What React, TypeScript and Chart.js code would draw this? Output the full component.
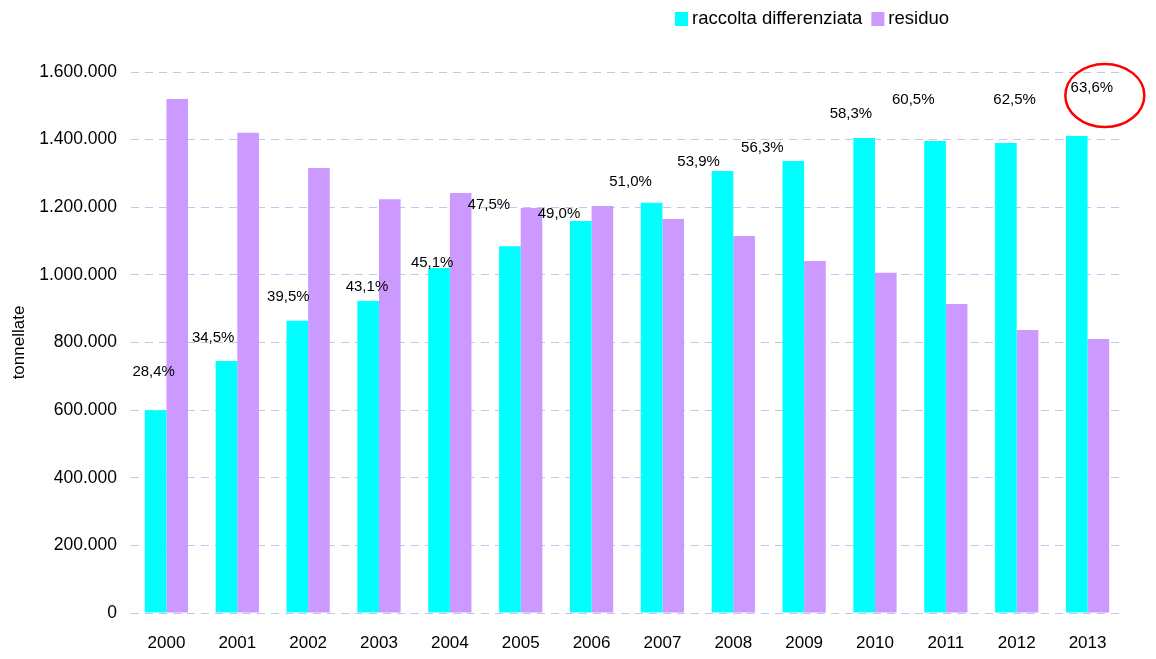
import React, { useEffect, useRef } from "react";
import { Chart, registerables } from "chart.js";

Chart.register(...registerables);

const years = ["2000", "2001", "2002", "2003", "2004", "2005", "2006", "2007", "2008", "2009", "2010", "2011", "2012", "2013"];
const raccolta = [600000, 745000, 864000, 923000, 1020000, 1085000, 1159000, 1213000, 1307000, 1337000, 1405000, 1396000, 1390000, 1411000];
const residuo = [1520000, 1420000, 1316000, 1224000, 1242000, 1198000, 1204000, 1165000, 1115000, 1041000, 1006000, 914000, 837000, 810000];
const pctLabels = ["28,4%", "34,5%", "39,5%", "43,1%", "45,1%", "47,5%", "49,0%", "51,0%", "53,9%", "56,3%", "58,3%", "60,5%", "62,5%", "63,6%"];
// label anchor heights (in tonnellate units) and horizontal shift (fraction of category)
const pctLabelValue = [713000, 813000, 935000, 964000, 1035000, 1207000, 1180000, 1275000, 1334000, 1375000, 1476000, 1517000, 1517000, 1553000];
const pctLabelShift = [-0.18, -0.34, -0.28, -0.17, -0.25, -0.45, -0.46, -0.45, -0.49, -0.59, -0.34, -0.46, -0.03, 0.06];
const highlightIndex = 13;
const yTicks = [0, 200000, 400000, 600000, 800000, 1000000, 1200000, 1400000, 1600000];

const CYAN = "#00ffff";
const PURPLE = "#cc99ff";
const FONT = "'Liberation Sans', Arial, sans-serif";

const fmt = (v: number) => Math.round(v).toString().replace(/\B(?=(\d{3})+(?!\d))/g, ".");

const overlayPlugin = {
  id: "overlay",
  afterDatasetsDraw(chart: any) {
    const ctx = chart.ctx;
    const x = chart.scales.x;
    const y = chart.scales.y;
    const step = x.getPixelForValue(1) - x.getPixelForValue(0);
    ctx.save();
    ctx.font = `15px ${FONT}`;
    ctx.fillStyle = "#000";
    ctx.textAlign = "center";
    ctx.textBaseline = "middle";
    pctLabels.forEach((t, i) => {
      const px = x.getPixelForValue(i) + pctLabelShift[i] * step;
      const py = y.getPixelForValue(pctLabelValue[i]);
      ctx.fillText(t, px, py);
      if (i === highlightIndex) {
        ctx.beginPath();
        ctx.strokeStyle = "#ff0000";
        ctx.lineWidth = 2.5;
        ctx.ellipse(px + 13, py + 7.5, 39.5, 31.5, 0, 0, Math.PI * 2);
        ctx.stroke();
      }
    });
    // legend
    const items = [
      { label: "raccolta differenziata", color: CYAN },
      { label: "residuo", color: PURPLE },
    ];
    ctx.font = `18.5px ${FONT}`;
    ctx.textAlign = "left";
    let lx = 675;
    const ly = 19;
    items.forEach((it) => {
      ctx.fillStyle = it.color;
      ctx.fillRect(lx, ly - 7, 13, 14);
      ctx.fillStyle = "#000";
      ctx.fillText(it.label, lx + 17, ly);
      lx += 17 + ctx.measureText(it.label).width + 9;
    });
    ctx.restore();
  },
};

export default function App() {
  const ref = useRef<HTMLCanvasElement | null>(null);
  useEffect(() => {
    document.body.style.margin = "0";
    const canvas = ref.current!;
    const chart = new Chart(canvas, {
      type: "bar",
      data: {
        labels: years,
        datasets: [
          { label: "raccolta differenziata", data: raccolta, backgroundColor: CYAN, categoryPercentage: 0.61, barPercentage: 1 },
          { label: "residuo", data: residuo, backgroundColor: PURPLE, categoryPercentage: 0.61, barPercentage: 1 },
        ],
      },
      options: {
        responsive: false,
        animation: false,
        layout: { padding: { top: 72, right: 33, left: 9, bottom: 0 } },
        plugins: { legend: { display: false }, tooltip: { enabled: false } },
        scales: {
          x: {
            grid: { display: false },
            border: { display: false },
            ticks: { color: "#000", font: { family: FONT, size: 17 }, padding: 12 },
            afterFit: (s: any) => { s.height = 46; },
          },
          y: {
            min: 0,
            max: 1600000,
            afterBuildTicks: (s: any) => { s.ticks = yTicks.map((v) => ({ value: v })); },
            grid: { color: "#c4c4f4", lineWidth: 1, drawTicks: false },
            border: { display: false, dash: [8, 6] },
            ticks: {
              color: "#000",
              font: { family: FONT, size: 17.5 },
              padding: 14,
              callback: (v: any) => fmt(Number(v)),
            },
            title: { display: true, text: "tonnellate", color: "#000", font: { family: FONT, size: 17 }, padding: 0 },
            afterFit: (s: any) => { s.width = 122; },
          },
        },
      },
      plugins: [overlayPlugin],
    });
    return () => chart.destroy();
  }, []);
  return <canvas ref={ref} width={1156} height={659} style={{ display: "block" }} />;
}
